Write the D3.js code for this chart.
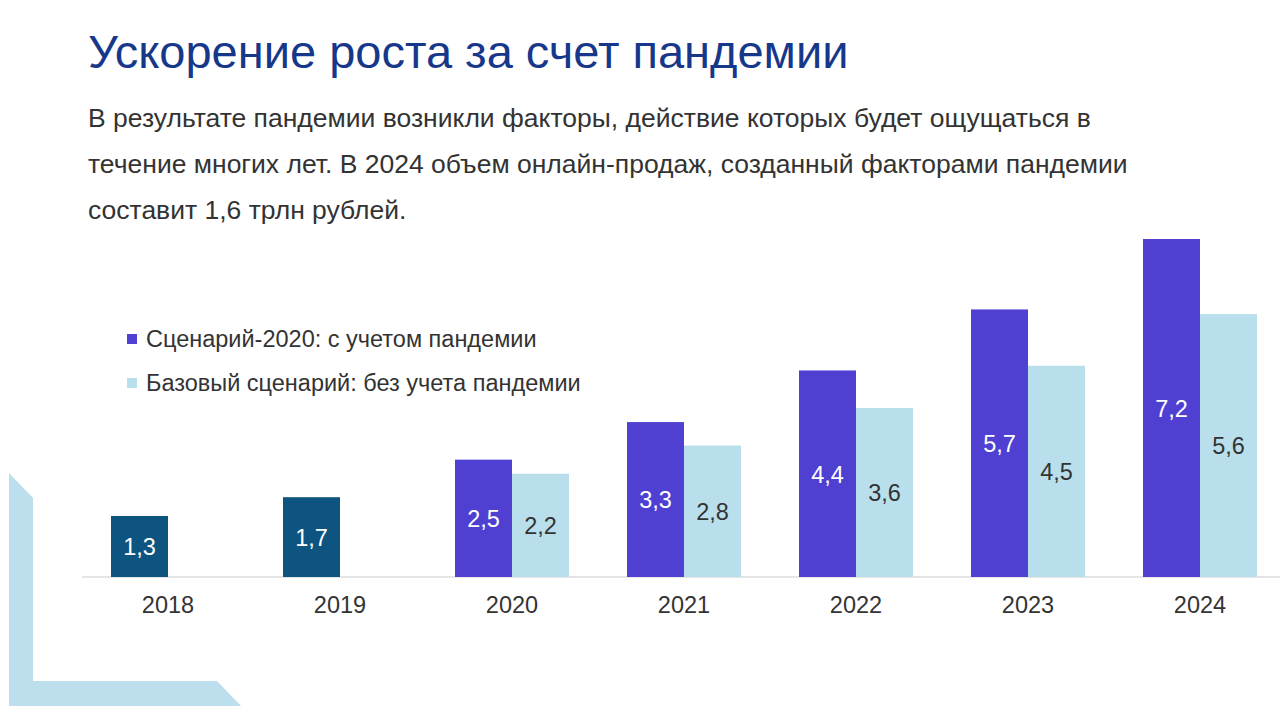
<!DOCTYPE html>
<html>
<head>
<meta charset="utf-8">
<script src="https://cdn.jsdelivr.net/npm/d3@7"></script>
<style>
	body { margin: 0; background: #fff; }
	svg { display: block; font-family: "Liberation Sans", Arial, sans-serif; }
</style>
</head>
<body>
<svg id="chart" width="1280" height="724"></svg>
<script>
// data
var years = ["2018", "2019", "2020", "2021", "2022", "2023", "2024"];
var actual = [1.3, 1.7, null, null, null, null, null];
var pandemic = [null, null, 2.5, 3.3, 4.4, 5.7, 7.2];
var baseline = [null, null, 2.2, 2.8, 3.6, 4.5, 5.6];
var legendLabels = ["Сценарий-2020: с учетом пандемии", "Базовый сценарий: без учета пандемии"];
var subtitleLines = [
	"В результате пандемии возникли факторы, действие которых будет ощущаться в",
	"течение многих лет. В 2024 объем онлайн-продаж, созданный факторами пандемии",
	"составит 1,6 трлн рублей."
];

var colors = { actual: "#0d5580", pandemic: "#5040d2", baseline: "#b9dfec" };

var svg = d3.select("#chart");
var ru = d3.formatLocale({ decimal: ",", thousands: " ", grouping: [3], currency: ["", ""] });
var fmt = ru.format(".1f");

// corner decoration
svg.append("polygon")
	.attr("points", "9,473 33,498 33,681 217,681 241,706 9,706")
	.attr("fill", "#bcdeed");

// title + text
svg.append("text")
	.attr("x", 88).attr("y", 68)
	.attr("font-size", 47)
	.attr("fill", "#17388a")
	.text("Ускорение роста за счет пандемии");

svg.append("g").selectAll("text")
	.data(subtitleLines)
	.join("text")
	.attr("x", 88)
	.attr("y", function(d, i){ return 127 + i * 46; })
	.attr("font-size", 26.5)
	.attr("fill", "#333")
	.text(function(d){ return d; });

// scales
var x = d3.scaleBand().domain(years).range([82, 82 + 172 * years.length]);
var sub = d3.scaleBand().domain(["left", "right"]).range([29, 143]);
var y = d3.scaleLinear().domain([0, 7.2]).range([577, 239]);

// axis line
svg.append("line")
	.attr("x1", 82).attr("x2", 1280)
	.attr("y1", y(0)).attr("y2", y(0))
	.attr("stroke", "#dcdcdc").attr("stroke-width", 1.5);

var rows = years.map(function(yr, i){
	return [
		{ year: yr, slot: "left", v: actual[i], c: colors.actual, lab: "#fff" },
		{ year: yr, slot: "left", v: pandemic[i], c: colors.pandemic, lab: "#fff" },
		{ year: yr, slot: "right", v: baseline[i], c: colors.baseline, lab: "#333" }
	];
}).flat().filter(function(d){ return d.v != null; });

var bars = svg.append("g");
bars.selectAll("rect")
	.data(rows)
	.join("rect")
	.attr("x", function(d){ return x(d.year) + sub(d.slot); })
	.attr("width", sub.bandwidth())
	.attr("y", function(d){ return y(d.v); })
	.attr("height", function(d){ return y(0) - y(d.v); })
	.attr("fill", function(d){ return d.c; });

bars.selectAll("text")
	.data(rows)
	.join("text")
	.attr("x", function(d){ return x(d.year) + sub(d.slot) + sub.bandwidth() / 2; })
	.attr("y", function(d){ return (y(d.v) + y(0)) / 2; })
	.attr("dy", "0.38em")
	.attr("text-anchor", "middle")
	.attr("font-size", 23.5)
	.attr("fill", function(d){ return d.lab; })
	.text(function(d){ return fmt(d.v); });

// x labels
svg.append("g").selectAll("text")
	.data(years)
	.join("text")
	.attr("x", function(d){ return x(d) + x.bandwidth() / 2; })
	.attr("y", 613)
	.attr("text-anchor", "middle")
	.attr("font-size", 23.5)
	.attr("fill", "#333")
	.text(function(d){ return d; });

// legend
var legend = svg.append("g").selectAll("g")
	.data(legendLabels)
	.join("g")
	.attr("transform", function(d, i){ return "translate(127," + (339 + i * 44) + ")"; });
legend.append("rect")
	.attr("x", 0).attr("y", -5)
	.attr("width", 10).attr("height", 10)
	.attr("fill", function(d, i){ return i == 0 ? colors.pandemic : colors.baseline; });
legend.append("text")
	.attr("x", 19).attr("dy", "0.35em")
	.attr("font-size", 23.5)
	.attr("fill", "#333")
	.text(function(d){ return d; });
</script>
</body>
</html>
